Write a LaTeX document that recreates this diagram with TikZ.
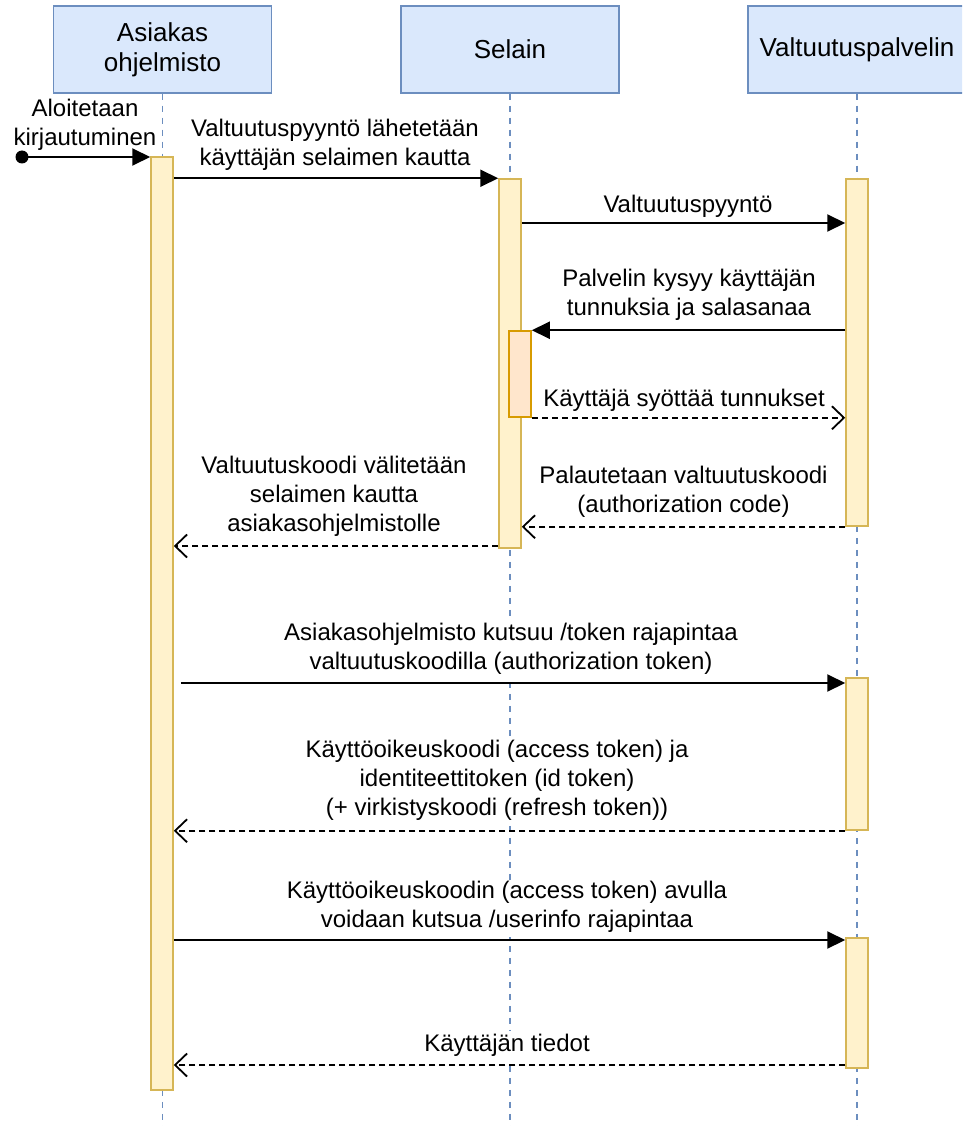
\documentclass[tikz,border=0pt]{standalone}
\usepackage{fontspec}
\setmainfont{Liberation Sans}
\usetikzlibrary{arrows.meta}
\definecolor{headfill}{HTML}{DAE8FC}
\definecolor{headline}{HTML}{6C8EBF}
\definecolor{actfill}{HTML}{FFF2CC}
\definecolor{actline}{HTML}{D6B656}
\definecolor{subfill}{HTML}{FFE6CC}
\definecolor{subline}{HTML}{D79B00}

\begin{document}
\begin{tikzpicture}[x=1pt,y=-1pt,
  txt/.style={font=\fontsize{24}{29}\selectfont},
  header/.style={font=\fontsize{26}{30}\selectfont, draw=headline, fill=headfill,
    line width=1.5pt, minimum width=218pt, minimum height=87pt, align=center,
    inner sep=0pt},
  lifeline/.style={draw=headline, line width=1.5pt, dash pattern=on 6pt off 6pt},
  actbox/.style={draw=actline, fill=actfill, line width=1.5pt,
    minimum width=22pt, inner sep=0pt},
  subbox/.style={draw=subline, fill=subfill, line width=1.5pt,
    minimum width=22pt, inner sep=0pt},
  call/.style={line width=2pt, -{Triangle[length=18pt,width=17pt]}},
  reply/.style={line width=1.8pt, dash pattern=on 6pt off 4pt,
    -{Straight Barb[length=12pt,width=23pt,line width=1.8pt]}},
  msglabel/.style={txt, fill=white, inner sep=1pt, align=center,
    execute at begin node=\strut, execute at end node=\strut},
]
\useasboundingbox (0,0) rectangle (962,1126);
\fill[white] (0,0) rectangle (962,1126);
\clip (0,0) rectangle (962,1126);

% participants
\node[header] (hA) at (162.5,49.5) {Asiakas\\ohjelmisto};
\node[header] (hS) at (510,49.5) {Selain};
\node[header] (hV) at (857,49.5) {Valtuutuspalvelin};

% lifelines
\coordinate (bottom) at (0,1126);
\draw[lifeline] (hA.south) -- (hA.south |- bottom);
\draw[lifeline] (hS.south) -- (hS.south |- bottom);
\draw[lifeline] (hV.south) -- (hV.south |- bottom);

% message labels
\node[msglabel] (l1) at (85,126.7) {Aloitetaan\\kirjautuminen};
\node[msglabel] (l2) at (335,146.7) {Valtuutuspyyntö lähetetään\\käyttäjän selaimen kautta};
\node[msglabel] (l3) at (688,206.9) {Valtuutuspyyntö};
\node[msglabel] (l4) at (689,296.4) {Palvelin kysyy käyttäjän\\tunnuksia ja salasanaa};
\node[msglabel] (l5) at (684,400.9) {Käyttäjä syöttää tunnukset};
\node[msglabel] (l6) at (683.5,493.7) {Palautetaan valtuutuskoodi\\(authorization code)};
\node[msglabel] (l7) at (334,498.4) {Valtuutuskoodi välitetään\\selaimen kautta\\asiakasohjelmistolle};
\node[msglabel] (l8) at (511,651) {Asiakasohjelmisto kutsuu /token rajapintaa\\valtuutuskoodilla (authorization token)};
\node[msglabel] (l9) at (497,781.7) {Käyttöoikeuskoodi (access token) ja\\identiteettitoken (id token)\\(+ virkistyskoodi (refresh token))};
\node[msglabel] (l10) at (507,908.7) {Käyttöoikeuskoodin (access token) avulla\\voidaan kutsua /userinfo rajapintaa};
\node[msglabel] (l11) at (507,1046) {Käyttäjän tiedot};

% activations
\node[actbox, minimum height=933pt] (a1) at (162,623.5) {};
\node[actbox, minimum height=369pt] (s1) at (510,363.5) {};
\node[subbox, minimum height=86pt] (s2) at (520,374) {};
\node[actbox, minimum height=347pt] (v1) at (857,352.5) {};
\node[actbox, minimum height=152pt] (v2) at (857,754) {};
\node[actbox, minimum height=130pt] (v3) at (857,1003) {};

% message rows
\coordinate (start) at (22,157);
\coordinate (m3) at (0,223);
\coordinate (m7) at (0,546);
\coordinate (m8) at (0,683);
\coordinate (m10) at (0,940);
\coordinate (m11) at (0,1065);

% messages
\fill (start) circle (6.5pt);
\draw[call] (start) -- (a1.west |- start);
\draw[call] (a1.east |- s1.north) -- (s1.north west);
\draw[call] (s1.east |- m3) -- (v1.west |- m3);
\draw[call] (v1.west |- s2.north) -- (s2.north east);
\draw[reply] (s2.south east) -- (v1.west |- s2.south);
\draw[reply] (v1.south west) -- (s1.east |- v1.south);
\draw[reply] (s1.west |- m7) -- (a1.east |- m7);
\draw[call] ([xshift=7pt]a1.east |- m8) -- (v2.west |- m8);
\draw[reply] (v2.south west) -- (a1.east |- v2.south);
\draw[call] (a1.east |- m10) -- (v3.west |- m10);
\draw[reply] (v3.west |- m11) -- (a1.east |- m11);
\end{tikzpicture}
\end{document}
